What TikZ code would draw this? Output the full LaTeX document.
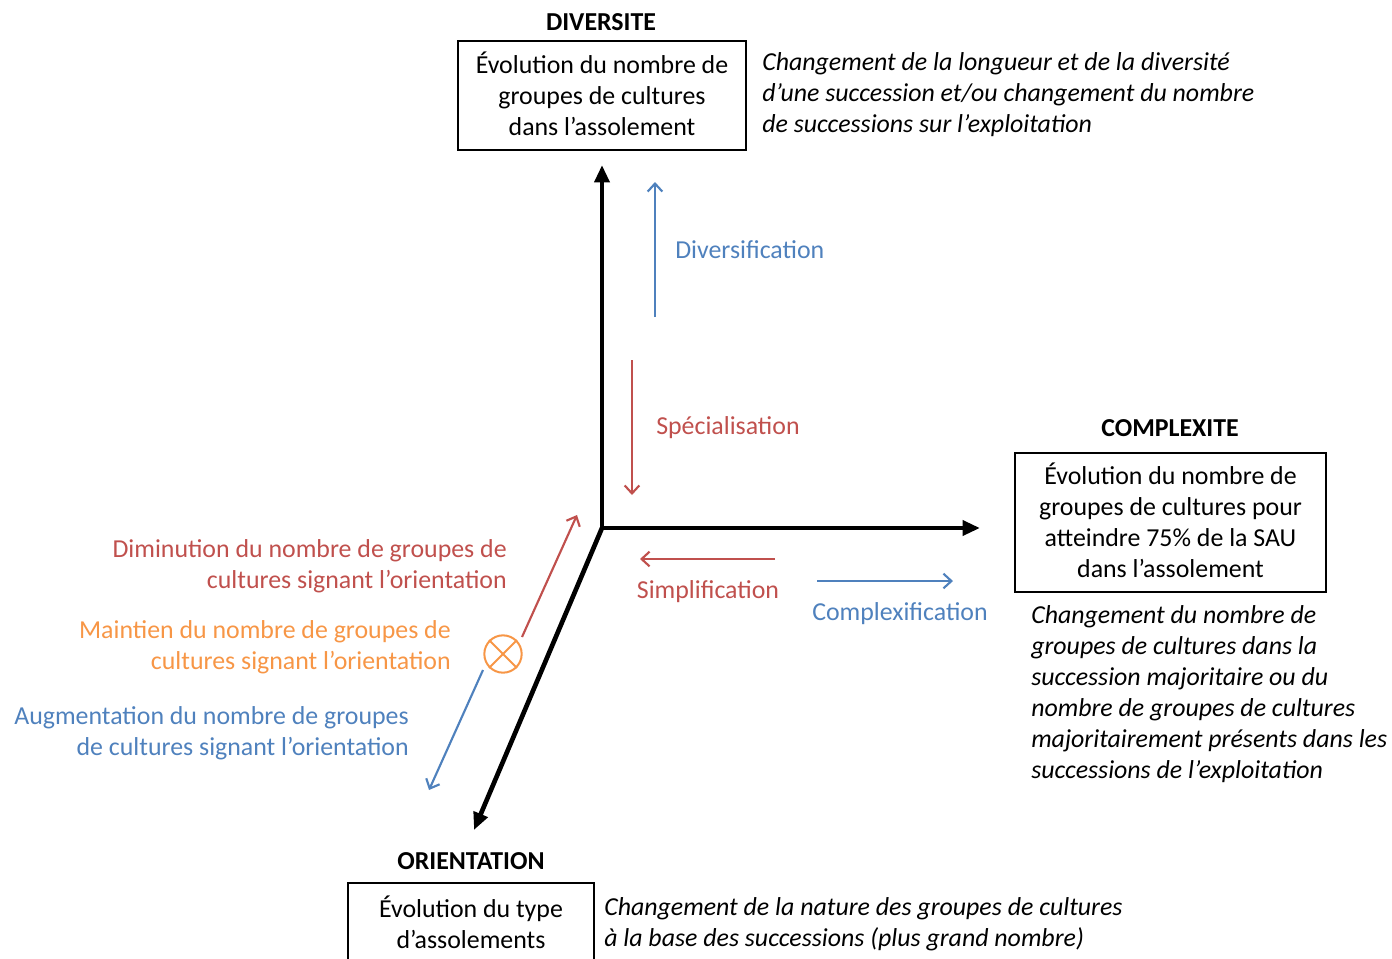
\documentclass[tikz,border=0pt]{standalone}
\usepackage{fontspec}
\setmainfont{Carlito}
\usetikzlibrary{arrows.meta}
\definecolor{rouge}{HTML}{C0504D}
\definecolor{bleu}{HTML}{4F81BD}
\definecolor{orange}{HTML}{F79646}
\begin{document}
\begin{tikzpicture}[x=0.75pt,y=-0.75pt,
	font=\fontsize{19.4pt}{23.25pt}\selectfont,
	axe/.style={line width=3.5pt,-{Triangle[length=13pt,width=11pt]}},
	sens/.style={line width=1.6pt,-{Straight Barb[length=6pt,width=11pt]}},
	titre/.style={font=\fontsize{19.4pt}{23.25pt}\selectfont\bfseries},
	cadre/.style={draw,line width=2.2pt,align=center,inner sep=0pt,text depth=3pt},
	note/.style={font=\fontsize{19.4pt}{23.25pt}\selectfont\itshape,align=left,anchor=west,inner sep=0pt}]
	\useasboundingbox (0,0) rectangle (1392,958);
	% axes
	\coordinate (O) at (602,528);
	\coordinate (D) at (602,165);
	\coordinate (C) at (980,528);
	\coordinate (R) at (474,830);
	\draw [axe] (O)--(D);
	\draw [axe] (O)--(C);
	\draw [axe] (O)--(R);
	% diversite
	\node[titre] (tD) at (601,22) {DIVERSITE};
	\node[cadre,minimum width=216pt,minimum height=81.75pt] (bD) at (602,95.5) {Évolution du nombre de\\groupes de cultures\\dans l’assolement};
	\node[note] (nD) at (762,95) {Changement de la longueur et de la diversité\\d’une succession et/ou changement du nombre\\de successions sur l’exploitation};
	\coordinate (d1) at (655,317);
	\coordinate (d2) at (655,182);
	\draw [sens,bleu] (d1)--(d2);
	\node[bleu,anchor=west,inner sep=0pt] (lDiv) at (675,250) {Diversification};
	\coordinate (s1) at (632,360);
	\coordinate (s2) at (632,495);
	\draw [sens,rouge] (s1)--(s2);
	\node[rouge,anchor=west,inner sep=0pt] (lSpe) at (656,427.5) {Spécialisation};
	% complexite
	\node[titre] (tC) at (1170,428) {COMPLEXITE};
	\node[cadre,minimum width=233.25pt,minimum height=104.25pt] (bC) at (1170.5,522.5) {Évolution du nombre de\\groupes de cultures pour\\atteindre 75\% de la SAU\\dans l’assolement};
	\node[note] (nC) at (1031,694.5) {Changement du nombre de\\groupes de cultures dans la\\succession majoritaire ou du\\nombre de groupes de cultures\\majoritairement présents dans les\\successions de l’exploitation};
	\coordinate (c1) at (775,559);
	\coordinate (c2) at (640,559);
	\draw [sens,rouge] (c1)--(c2);
	\node[rouge,inner sep=0pt] (lSim) at (708,591.5) {Simplification};
	\coordinate (c3) at (817,581);
	\coordinate (c4) at (953,581);
	\draw [sens,bleu] (c3)--(c4);
	\node[bleu,inner sep=0pt] (lCom) at (900,613.5) {Complexification};
	% orientation
	\node[titre] (tR) at (471,861) {ORIENTATION};
	\node[cadre,minimum width=184.5pt,minimum height=61.5pt] (bR) at (471,924) {Évolution du type\\d’assolements};
	\node[note] (nR) at (604,924.5) {Changement de la nature des groupes de cultures\\à la base des successions (plus grand nombre)};
	\node[draw=orange,circle,line width=1.5pt,minimum size=28pt,inner sep=0pt] (maintien) at (503,654) {};
	\draw [orange,line width=1.5pt] (maintien.north west)--(maintien.south east);
	\draw [orange,line width=1.5pt] (maintien.north east)--(maintien.south west);
	\coordinate (o1) at (522,637);
	\coordinate (o2) at (577,515);
	\draw [sens,rouge] (o1)--(o2);
	\coordinate (o3) at (483,670);
	\coordinate (o4) at (429,790);
	\draw [sens,bleu] (o3)--(o4);
	\node[rouge,align=right,anchor=east,inner sep=0pt] (lDim) at (507,566) {Diminution du nombre de groupes de\\cultures signant l’orientation};
	\node[orange,align=right,anchor=east,inner sep=0pt] (lMai) at (451,647) {Maintien du nombre de groupes de\\cultures signant l’orientation};
	\node[bleu,align=right,anchor=east,inner sep=0pt] (lAug) at (409,733) {Augmentation du nombre de groupes\\de cultures signant l’orientation};
\end{tikzpicture}
\end{document}
